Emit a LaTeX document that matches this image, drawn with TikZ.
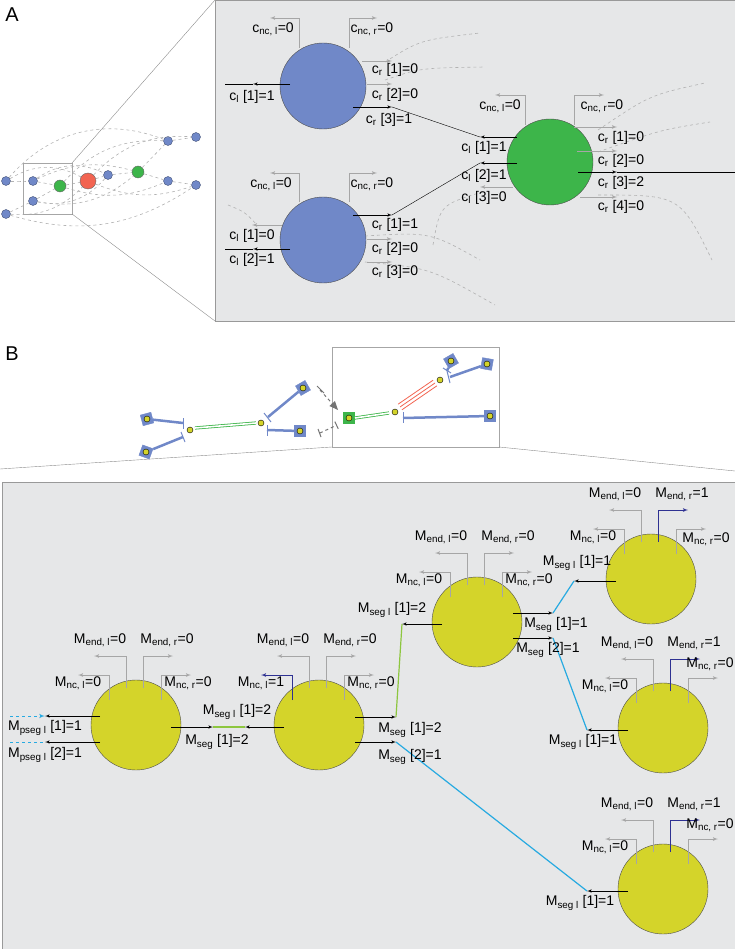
\documentclass[tikz,border=0pt]{standalone}
\usepackage{fontspec}
\setmainfont{Liberation Sans}
\usetikzlibrary{arrows,calc}
\definecolor{panel}{HTML}{E6E7E8}
\definecolor{bluec}{HTML}{7088C8}
\definecolor{greenc}{HTML}{3DB54A}
\definecolor{redc}{HTML}{F26451}
\definecolor{yelc}{HTML}{D4D42A}
\definecolor{cyanl}{HTML}{27AAE1}
\definecolor{navy}{HTML}{2E3192}
\definecolor{limel}{HTML}{8DC63F}
\newcommand\Ms[2]{M\textsubscript{#1}#2}
\newcommand\cs[2]{c\textsubscript{#1}#2}
% gray flags above one yellow circle
\newcommand\Mflags[8]{%
\draw[flag,draw=#6] ($(#1)+(7,-37)$) |- ++(30,-32);
\draw[flag] ($(#1)+(-10,-37)$) |- ++(-32,-32);
\draw[flag,draw=#7] ($(#1)+(-27,-25)$) |- ++(-31,-25);
\draw[flag] ($(#1)+(25,-25)$) |- ++(30,-25);
\node[lab] at ($(#1)+(-36,-85)$) {\Ms{end, l}{=#2}};
\node[lab] at ($(#1)+(31,-85)$) {\Ms{end, r}{=#3}};
\node[lab] at ($(#1)+(-58,-42)$) {\Ms{nc, l}{=#4}};
\node[lab] at ($(#1)+#8$) {\Ms{nc, r}{=#5}};}
\begin{document}
\begin{tikzpicture}[x=1pt,y=-1pt,>=latex',
  lab/.style={font=\fontsize{14}{15}\selectfont,inner sep=0pt},
  flag/.style={->,draw=gray!70,line width=0.8pt},
  conn/.style={->,black,line width=0.6pt},
  bcirc/.style={circle,draw=black!70,fill=bluec,minimum size=86pt,inner sep=0pt},
  gcirc/.style={circle,draw=black!70,fill=greenc,minimum size=86pt,inner sep=0pt},
  ycirc/.style={circle,draw=black!70,fill=yelc,minimum size=90pt,inner sep=0pt},
  dot/.style={circle,draw=bluec!60!black,fill=bluec,minimum size=9pt,inner sep=0pt},
  guide/.style={dashed,gray!60,line width=0.6pt},
  ydot/.style={circle,draw=black,fill=yelc,minimum size=6pt,inner sep=0pt},
  sq/.style={draw=bluec,fill=bluec,minimum size=11pt,inner sep=0pt},
  arm/.style={bluec,line width=2.5pt}]
\useasboundingbox (0,0) rectangle (735,949);
% ---------------- panel A
\node[font=\fontsize{20}{20}\selectfont] (ta) at (12,15) {A};
\fill[panel] (215,0) rectangle (735,321);
\draw[gray!80] (215,0) rectangle (735,321);
% overview graph
\node[dot] (g1) at (6,181) {};
\node[dot] (g2) at (33,181) {};
\node[dot] (g3) at (33,201) {};
\node[dot] (g4) at (6,214) {};
\node[dot] (g5) at (108,175) {};
\node[dot] (g6) at (168,141) {};
\node[dot] (g7) at (196,137) {};
\node[dot] (g8) at (168,181) {};
\node[dot] (g9) at (196,185) {};
\node[circle,draw=black!60,fill=greenc,minimum size=12pt] (gg1) at (60,186) {};
\node[circle,draw=black!60,fill=greenc,minimum size=12pt] (gg2) at (138,172) {};
\node[circle,draw=black!60,fill=redc,minimum size=16pt] (gr) at (88,181) {};
\foreach \a/\b/\c in {g1/g2/0,g2/gg1/0,g3/gg1/0,g4/g3/0,gg1/gr/0,gr/g5/0,g5/gg2/0,gg2/g6/0,g6/g7/0,gg2/g8/0,g8/g9/0,
  g1/gr/30,g4/gr/-25,g2/g5/30,g3/g5/-30,gg1/g6/25,gg1/g8/-20,gr/g7/25,gr/g9/-20,g1/g6/35,g4/g9/-25,g3/gg2/-25,g2/gg2/20}
  \draw[guide] (\a) to[bend left=\c] (\b);
\draw[gray!70] (23,163) rectangle (72,214);
\draw[gray!90] (72,163) -- (215,0);
\draw[gray!90] (72,214) -- (215,321);
% dashed guides in the close-up
\draw[guide] (385,62) .. controls (420,40) .. (480,33);
\draw[guide] (385,80) .. controls (420,68) .. (485,67);
\draw[guide] (598,130) .. controls (650,95) .. (705,83);
\draw[guide] (598,152) .. controls (660,130) .. (710,122);
\draw[guide] (598,195) .. controls (680,195) .. (712,260);
\draw[guide] (433,245) .. controls (440,205) .. (482,192);
\draw[guide] (228,205) .. controls (245,212) .. (258,226);
\draw[guide] (365,236) .. controls (430,232) .. (480,260);
\draw[guide] (365,262) .. controls (430,268) .. (495,305);
% close-up nodes
\node[bcirc] (ct) at (323,86) {};
\node[bcirc] (cb) at (323,240) {};
\node[gcirc] (cg) at (550,162) {};
\coordinate (jt) at (392,107);
\coordinate (jb) at (392,215);
\coordinate (jg1) at (480,137);
\coordinate (jg2) at (480,163);
\coordinate (jr) at (617,172);
\coordinate (jl1) at (253,84);
\coordinate (jl2) at (253,249);
% top blue
\draw[flag] (299,48) |- (270,18);
\draw[flag] (349,48) |- (377,18);
\node[lab] at (273,29) {\cs{nc, l}{=0}};
\node[lab] at (372,29) {\cs{nc, r}{=0}};
\draw[flag] (362,61) -- (392,61);
\draw[flag] (367,84) -- (392,84);
\draw[conn] (353,107) -- (jt);
\draw[conn] (290,84) -- (jl1);
\draw (jl1) -- (225,84);
\node[lab] at (395,70) {\cs{r}{ [1]=0}};
\node[lab] at (395,95) {\cs{r}{ [2]=0}};
\node[lab] at (389,120) {\cs{r}{ [3]=1}};
\node[lab] at (252,97) {\cs{l}{ [1]=1}};
% bottom blue
\draw[flag] (299,202) |- (270,173);
\draw[flag] (349,202) |- (377,173);
\node[lab] at (271,184) {\cs{nc, l}{=0}};
\node[lab] at (372,184) {\cs{nc, r}{=0}};
\draw[conn] (353,215) -- (jb);
\draw[flag] (367,239) -- (392,239);
\draw[flag] (367,262) -- (392,262);
\draw[flag] (282,225) -- (252,225);
\draw[conn] (290,249) -- (jl2);
\draw (jl2) -- (225,249);
\node[lab] at (395,225) {\cs{r}{ [1]=1}};
\node[lab] at (395,249) {\cs{r}{ [2]=0}};
\node[lab] at (395,272) {\cs{r}{ [3]=0}};
\node[lab] at (252,236) {\cs{l}{ [1]=0}};
\node[lab] at (252,260) {\cs{l}{ [2]=1}};
% green
\draw[flag] (525,125) |- (495,95);
\draw[flag] (574,125) |- (604,95);
\node[lab] at (500,106) {\cs{nc, l}{=0}};
\node[lab] at (602,106) {\cs{nc, r}{=0}};
\draw[flag] (574,127) -- (617,127);
\draw[flag] (577,151) -- (617,151);
\draw[conn] (578,172) -- (jr);
\draw (jr) -- (735,172);
\draw[flag] (580,197) -- (617,197);
\draw[conn] (517,137) -- (jg1);
\draw[conn] (517,163) -- (jg2);
\draw[flag] (513,187) -- (480,187);
\node[lab] at (621,138) {\cs{r}{ [1]=0}};
\node[lab] at (621,161) {\cs{r}{ [2]=0}};
\node[lab] at (621,183) {\cs{r}{ [3]=2}};
\node[lab] at (621,207) {\cs{r}{ [4]=0}};
\node[lab] at (484,148) {\cs{l}{ [1]=1}};
\node[lab] at (484,176) {\cs{l}{ [2]=1}};
\node[lab] at (484,198) {\cs{l}{ [3]=0}};
\draw (jt) -- (jg1);
\draw (jb) -- (jg2);
% ---------------- panel B
\node[font=\fontsize{20}{20}\selectfont] (tb) at (12,354) {B};
% sketch
\draw[gray!70] (332,347) rectangle (499,447);
\draw[gray!90] (332,447) -- (0,469);
\draw[gray!90] (499,447) -- (735,471);
\node[ydot] (h1) at (190,430) {};
\node[ydot] (h2) at (261,423) {};
\node[ydot] (h3) at (395,412) {};
\node[ydot] (h4) at (440,380) {};
\node[sq,rotate=15] (s1) at (147,419) {}; \node[ydot] at (s1) {};
\node[sq,rotate=-20] (s2) at (146,452) {}; \node[ydot] at (s2) {};
\node[sq,rotate=30] (s3) at (303,388) {}; \node[ydot] at (s3) {};
\node[sq] (s4) at (300,431) {}; \node[ydot] at (s4) {};
\node[sq,draw=greenc,fill=greenc] (s5) at (349,418) {}; \node[ydot] at (s5) {};
\node[sq,rotate=30] (s6) at (451,361) {}; \node[ydot] at (s6) {};
\node[sq,rotate=-10] (s7) at (487,364) {}; \node[ydot] at (s7) {};
\node[sq] (s8) at (490,416) {}; \node[ydot] at (s8) {};
\draw[arm] (s1) -- (183,423); \draw[bluec,line width=1pt] (183,418) -- (183,429);
\draw[arm] (s2) -- (183,437); \draw[bluec,line width=1pt] (181,432) -- (185,442);
\draw[arm] (s3) -- (268,417); \draw[bluec,line width=1pt] (264,413) -- (271,422);
\draw[arm] (s4) -- (267,430); \draw[bluec,line width=1pt] (267,425) -- (267,436);
\draw[arm] (s6) -- (447,371); \draw[bluec,line width=1pt] (443,368) -- (451,373);
\draw[arm] (s7) -- (450,377); \draw[bluec,line width=1pt] (447,371) -- (450,383);
\draw[arm] (s8) -- (403,418); \draw[bluec,line width=1pt] (403,412) -- (403,423);
\draw[greenc,double=white,double distance=1.6pt,line width=0.8pt] (195,428) -- (256,423);
\draw[greenc,double=white,double distance=1.6pt,line width=0.8pt] (355,418) -- (389,413);
\foreach \d in {-3.5,0,3.5}
  \draw[redc,line width=0.8pt] ($(400,407)+(0.55*\d,0.8*\d)$) -- ($(435,383)+(0.55*\d,0.8*\d)$);
\draw[gray!90!black,dashed,-triangle 45,line width=1pt] (320,390) -- (338,410);
\draw[gray!90!black,dashed,-|,line width=1pt] (320,433) -- (337,425);
\draw[gray!90!black,line width=1pt] (317,386) -- (324,393);
\draw[gray!90!black,line width=1pt] (318,429) -- (321,437);
% close-up
\fill[panel] (2,482) rectangle (735,949);
\draw[gray!80] (2,482) rectangle (735,949);
\node[ycirc] (m1) at (136,725) {};
\node[ycirc] (m2) at (319,725) {};
\node[ycirc] (m3) at (477,622) {};
\node[ycirc] (m4) at (651,579) {};
\node[ycirc] (m5) at (663,728) {};
\node[ycirc] (m6) at (663,889) {};
\Mflags{m1}{0}{0}{0}{0}{gray!70}{gray!70}{(52,-42)}
\Mflags{m2}{0}{0}{1}{0}{gray!70}{navy}{(52,-42)}
\Mflags{m3}{0}{0}{0}{0}{gray!70}{gray!70}{(52,-42)}
\Mflags{m4}{0}{1}{0}{0}{navy}{gray!70}{(55,-40)}
\Mflags{m5}{0}{1}{0}{0}{navy}{gray!70}{(47,-64)}
\Mflags{m6}{0}{1}{0}{0}{navy}{gray!70}{(47,-64)}
\coordinate (p1) at (45,716);
\coordinate (p2) at (45,742);
\coordinate (a12) at (213,727);
\coordinate (b12) at (245,727);
\coordinate (a23) at (396,717);
\coordinate (b23) at (402,624);
\coordinate (a26) at (396,742);
\coordinate (b26) at (587,891);
\coordinate (a34) at (553,613);
\coordinate (b34) at (574,581);
\coordinate (a35) at (553,638);
\coordinate (b35) at (587,730);
\draw[conn] (100,716) -- (p1);
\draw[conn] (100,742) -- (p2);
\draw[cyanl,dashed,->,line width=1pt] (10,716) -- (p1);
\draw[cyanl,dashed,line width=1pt] (10,742) -- (p2);
\draw[conn] (171,727) -- (a12);
\draw[conn] (284,727) -- (b12);
\draw[conn] (355,717) -- (a23);
\draw[conn] (355,742) -- (a26);
\draw[conn] (442,624) -- (b23);
\draw[conn] (513,613) -- (a34);
\draw[conn] (513,638) -- (a35);
\draw[conn] (616,581) -- (b34);
\draw[conn] (628,730) -- (b35);
\draw[conn] (628,891) -- (b26);
\draw[limel,line width=1.2pt] (a12) -- (b12);
\draw[limel,line width=1.2pt] (a23) -- (b23);
\draw[cyanl,line width=1.2pt] (a26) -- (b26);
\draw[cyanl,line width=1.2pt] (a34) -- (b34);
\draw[cyanl,line width=1.2pt] (a35) -- (b35);
\node[lab] at (45,728) {\Ms{pseg l}{ [1]=1}};
\node[lab] at (45,755) {\Ms{pseg l}{ [2]=1}};
\node[lab] at (217,742) {\Ms{seg}{ [1]=2}};
\node[lab] at (237,712) {\Ms{seg l}{ [1]=2}};
\node[lab] at (410,730) {\Ms{seg}{ [1]=2}};
\node[lab] at (410,757) {\Ms{seg}{ [2]=1}};
\node[lab] at (392,610) {\Ms{seg l}{ [1]=2}};
\node[lab] at (556,625) {\Ms{seg}{ [1]=1}};
\node[lab] at (548,650) {\Ms{seg}{ [2]=1}};
\node[lab] at (577,563) {\Ms{seg l}{ [1]=1}};
\node[lab] at (583,742) {\Ms{seg l}{ [1]=1}};
\node[lab] at (580,903) {\Ms{seg l}{ [1]=1}};
\end{tikzpicture}
\end{document}
